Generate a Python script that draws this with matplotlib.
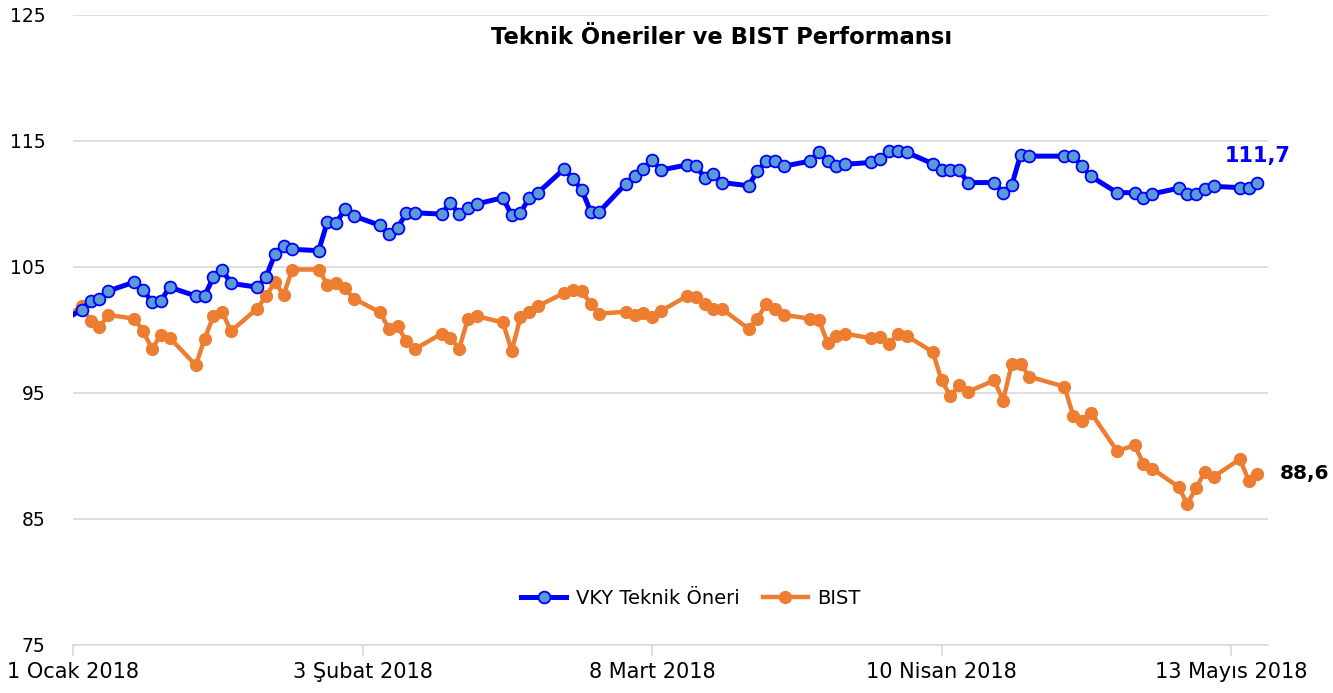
import numpy as np
import pandas as pd
import matplotlib
matplotlib.use('Agg')
import matplotlib.pyplot as plt
import matplotlib.dates as mdates

# trading days (Borsa Istanbul), holidays dropped
holidays = ['2018-01-01', '2018-04-23', '2018-05-01']
dates = pd.bdate_range('2017-12-29', '2018-05-16')
dates = dates[~dates.isin(pd.to_datetime(holidays))]

vky = [100.0,
       101.6, 102.3, 102.5, 103.1,
       103.8, 103.2, 102.2, 102.3, 103.4,
       102.7, 102.7, 104.2, 104.8, 103.7,
       103.4, 104.2, 106.0, 106.7, 106.4,
       106.3, 108.6, 108.5, 109.6, 109.05,
       108.3, 107.6, 108.1, 109.3, 109.3,
       109.2, 110.1, 109.2, 109.7, 110.0,
       110.5, 109.1, 109.3, 110.5, 110.9,
       112.8, 112.0, 111.1, 109.4, 109.4,
       111.6, 112.2, 112.8, 113.5, 112.7,
       113.1, 113.0, 112.1, 112.4, 111.7,
       111.45, 112.6, 113.4, 113.4, 113.0,
       113.4, 114.1, 113.4, 113.0, 113.15,
       113.3, 113.55, 114.2, 114.2, 114.1,
       113.2, 112.7, 112.7, 112.7, 111.7,
       111.7, 110.9, 111.5, 113.9, 113.8,
       113.8, 113.8, 113.0, 112.2,
       110.9,
       110.9, 110.45, 110.8,
       111.25, 110.8, 110.8, 111.2, 111.4,
       111.3, 111.3, 111.7]

bist = [100.0,
        101.9, 100.7, 100.2, 101.2,
        100.9, 99.9, 98.5, 99.6, 99.4,
        97.2, 99.3, 101.1, 101.45, 99.9,
        101.7, 102.7, 103.8, 102.8, 104.8,
        104.8, 103.6, 103.75, 103.3, 102.5,
        101.4, 100.1, 100.3, 99.1, 98.5,
        99.7, 99.4, 98.5, 100.85, 101.1,
        100.6, 98.35, 101.0, 101.4, 101.9,
        102.95, 103.15, 103.1, 102.05, 101.3,
        101.45, 101.2, 101.35, 101.05, 101.5,
        102.7, 102.6, 102.05, 101.65, 101.65,
        100.1, 100.9, 102.05, 101.7, 101.2,
        100.9, 100.8, 99.0, 99.5, 99.7,
        99.35, 99.45, 98.9, 99.7, 99.55,
        98.25, 96.0, 94.75, 95.6, 95.1,
        96.0, 94.4, 97.3, 97.3, 96.3,
        95.5, 93.2, 92.8, 93.45,
        90.4,
        90.85, 89.4, 89.0,
        87.55, 86.2, 87.45, 88.75, 88.35,
        89.75, 88.05, 88.6]

tick_dates = ['2018-01-01', '2018-02-03', '2018-03-08', '2018-04-10', '2018-05-13']
tick_labels = ['1 Ocak 2018', '3 Şubat 2018', '8 Mart 2018', '10 Nisan 2018', '13 Mayıs 2018']
y_ticks = [75, 85, 95, 105, 115, 125]

BLUE = '#0000FF'
BLUE_FACE = '#5B9BD5'
ORANGE = '#ED7D31'

fig = plt.figure(figsize=(13.33, 6.93), dpi=100)
ax = fig.add_axes([73 / 1333, 1 - 645 / 693, (1268 - 73) / 1333, 630 / 693])

ax.plot(dates, vky, color=BLUE, lw=3.6, marker='o', ms=8.5,
        mfc=BLUE_FACE, mec=BLUE, mew=1.3, label='VKY Teknik Öneri', zorder=4)
ax.plot(dates, bist, color=ORANGE, lw=3.2, marker='o', ms=8.5,
        mfc=ORANGE, mec=ORANGE, label='BIST', zorder=3)

x0 = pd.Timestamp('2018-01-01')
ax.set_xlim(x0, x0 + pd.Timedelta(days=136.2))
ax.set_ylim(75, 125)
ax.set_yticks(y_ticks)
ax.set_yticklabels([str(v) for v in y_ticks], fontsize=13.5)
ax.yaxis.grid(True, color='#D9D9D9', lw=1.2)
ax.set_axisbelow(True)
ax.tick_params(axis='y', length=0, pad=20)

ax.set_xticks(pd.to_datetime(tick_dates))
ax.set_xticklabels(tick_labels, fontsize=15)
ax.tick_params(axis='x', length=8, color='#D9D9D9', width=1.2, pad=4)

for s in ['top', 'right', 'left']:
    ax.spines[s].set_visible(False)
ax.spines['bottom'].set_color('#D9D9D9')
ax.spines['bottom'].set_linewidth(1.2)

# end labels
ax.annotate(f'{vky[-1]:.1f}'.replace('.', ','), (dates[-1], vky[-1]),
            xytext=(0, 27), textcoords='offset pixels', ha='center', va='center',
            color=BLUE, fontsize=15, fontweight='bold')
ax.annotate(f'{bist[-1]:.1f}'.replace('.', ','), (dates[-1], bist[-1]),
            xytext=(22, 0), textcoords='offset pixels', ha='left', va='center',
            color='black', fontsize=14.5, fontweight='bold', annotation_clip=False)

fig.text(722 / 1333, 1 - 38 / 693, 'Teknik Öneriler ve BIST Performansı',
         ha='center', va='center', fontsize=16.3, fontweight='bold')

fig.legend(loc='center', bbox_to_anchor=(691 / 1333, 1 - 598 / 693), ncol=2,
           frameon=False, fontsize=14, handlelength=2.3, handletextpad=0.5,
           columnspacing=1.2)

fig.savefig('out.png', dpi=100)
